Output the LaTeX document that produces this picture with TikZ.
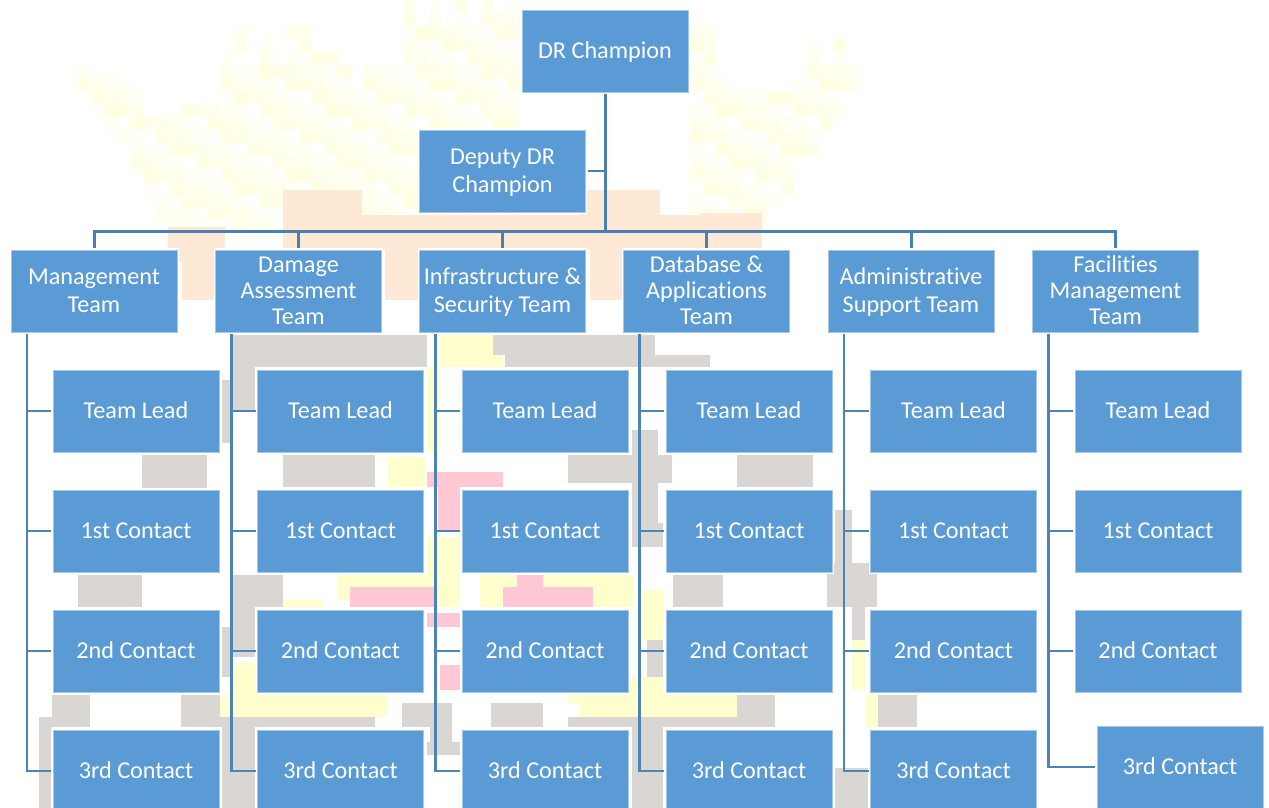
\documentclass[tikz,border=0pt]{standalone}
\usepackage{fontspec}
\setmainfont[Ligatures=NoCommon]{Carlito}
\definecolor{boxblue}{HTML}{5B9BD5}
\definecolor{boxedge}{HTML}{A5C8E8}
\definecolor{treeblue}{HTML}{4A80B0}
\definecolor{wmyellow}{HTML}{FFFFB0}
\definecolor{wmsoft}{HTML}{FFFFCE}
\definecolor{wmpeach}{HTML}{FDE9D5}
\definecolor{wmgrey}{HTML}{D9D6D4}
\definecolor{wmpink}{HTML}{FFC8D4}
\newcommand{\orgstrut}{\rule[-6pt]{0pt}{27pt}}
\tikzset{
  orgbox/.style={rectangle,fill=boxblue,draw=boxedge,line width=0.8pt,
    preaction={draw=white,line width=3.5pt},
    minimum width=166pt,minimum height=82pt,inner sep=0pt,outer sep=2pt,
    align=center,text=white,font=\fontsize{24.2}{26}\selectfont},
  bus/.style={draw=treeblue,line width=3pt},
  link/.style={draw=treeblue,line width=1.8pt},
  trunk/.style={draw=treeblue!85!boxblue,line width=2.6pt}
}
\begin{document}
\begin{tikzpicture}[x=1pt,y=-1pt]
    \useasboundingbox (0,0) rectangle (1269,808);
    \clip (0,0) rectangle (1269,808);
%
    % watermark behind the chart
    \foreach \cx/\ct/\cb in {78/65/104,91/78/117,104/65/130,117/78/143,130/78/182,143/117/195,156/117/221,169/104/234,182/104/234,
        195/104/234,208/104/234,221/52/234,234/26/234,247/65/234,260/26/234,273/65/234,286/26/234,299/26/234,312/52/234,325/52/234,
        338/65/234,351/91/234,364/65/234,377/65/234,390/65/234,403/0/234,416/26/234,429/0/234,442/26/234,455/0/234,468/26/234,
        481/0/234,494/13/234,507/0/234,690/26/234,703/13/234,716/78/234,729/91/234,742/91/234,755/91/221,768/91/208,781/91/195,
        794/65/169,807/39/156,820/65/130,833/39/117,846/65/91}{
        \foreach \cy in {0,13,...,234}{
            \pgfmathtruncatemacro\wmtone{3+2*mod(\cx*5+\cy*3,17)}
            \ifnum\cy<\ct\else\ifnum\cy<\cb
                \fill[wmyellow!\wmtone!white] (\cx,\cy) rectangle ++(13,13);
            \fi\fi
        }
    }
    \foreach \xa/\ya/\xb/\yb in {168/227/225/262,182/262/215/300,283/190/362/250,362/215/760/250,580/190/660/231,
        385/250/420/300,590/250/622/300,700/213/762/250}{
        \fill[wmpeach] (\xa,\ya) rectangle (\xb,\yb);
    }
    \foreach \xa/\ya/\xb/\yb in {440/335/503/367,427/367/440/453,388/457/425/487,427/537/460/607,337/575/427/600,283/600/323/607,
        233/663/255/695,220/695/387/717,630/677/663/695,568/695/737/703,480/575/633/607,640/590/663/640,852/640/865/690,865/695/878/727,
        580/703/737/717,323/703/362/717}{
        \fill[wmsoft] (\xa,\ya) rectangle (\xb,\yb);
    }
    \foreach \xa/\ya/\xb/\yb in {427/472/503/487,438/487/460/530,350/587/437/607,427/613/460/627,440/665/460/690,503/587/593/607,517/575/543/587}{
        \fill[wmpink] (\xa,\ya) rectangle (\xb,\yb);
    }
    \foreach \xa/\ya/\xb/\yb in {233/335/427/367,233/367/255/410,222/380/232/443,283/455/375/487,142/455/207/488,78/575/142/607,
        52/695/90/727,39/717/52/808,181/695/220/727,233/575/283/607,233/607/255/657,222/627/232/677,220/717/375/727,222/727/255/808,
        402/703/452/727,430/727/452/742,427/742/460/755,493/335/655/355,505/355/710/367,568/455/672/483,632/430/658/547,632/523/663/547,
        737/455/813/487,673/575/723/607,827/563/877/607,835/510/852/563,852/607/865/640,647/640/663/677,491/703/543/727,568/717/775/727,
        737/695/775/717,878/695/917/727,632/727/663/808,835/768/868/808}{
        \fill[wmgrey] (\xa,\ya) rectangle (\xb,\yb);
    }
%
    \draw (605,51) node[orgbox] (champion) {\orgstrut DR Champion};
    \draw (502.5,171) node[orgbox] (deputy) {\orgstrut Deputy DR\\Champion\orgstrut};
    \coordinate (busjoin) at (605,231);
%
    \draw (94,291) node[orgbox] (mgmt) {\orgstrut Management\\Team\orgstrut};
    \draw (298.5,291) node[orgbox] (damage) {\orgstrut Damage\\Assessment\\Team\orgstrut};
    \draw (502.5,291) node[orgbox] (infra) {\orgstrut Infrastructure \&\\Security Team\orgstrut};
    \draw (706.5,291) node[orgbox] (database) {\orgstrut Database \&\\Applications\\Team\orgstrut};
    \draw (911,291) node[orgbox] (admin) {\orgstrut Administrative\\Support Team\orgstrut};
    \draw (1115.5,291) node[orgbox] (facil) {\orgstrut Facilities\\Management\\Team\orgstrut};
%
    \draw (136,411) node[orgbox] (mgmtlead) {\orgstrut Team Lead};
    \draw (136,531) node[orgbox] (mgmtone) {\orgstrut 1st Contact};
    \draw (136,651) node[orgbox] (mgmttwo) {\orgstrut 2nd Contact};
    \draw (136,771) node[orgbox] (mgmtthree) {\orgstrut 3rd Contact};
    \draw (340.5,411) node[orgbox] (damagelead) {\orgstrut Team Lead};
    \draw (340.5,531) node[orgbox] (damageone) {\orgstrut 1st Contact};
    \draw (340.5,651) node[orgbox] (damagetwo) {\orgstrut 2nd Contact};
    \draw (340.5,771) node[orgbox] (damagethree) {\orgstrut 3rd Contact};
    \draw (545,411) node[orgbox] (infralead) {\orgstrut Team Lead};
    \draw (545,531) node[orgbox] (infraone) {\orgstrut 1st Contact};
    \draw (545,651) node[orgbox] (infratwo) {\orgstrut 2nd Contact};
    \draw (545,771) node[orgbox] (infrathree) {\orgstrut 3rd Contact};
    \draw (749,411) node[orgbox] (databaselead) {\orgstrut Team Lead};
    \draw (749,531) node[orgbox] (databaseone) {\orgstrut 1st Contact};
    \draw (749,651) node[orgbox] (databasetwo) {\orgstrut 2nd Contact};
    \draw (749,771) node[orgbox] (databasethree) {\orgstrut 3rd Contact};
    \draw (953.5,411) node[orgbox] (adminlead) {\orgstrut Team Lead};
    \draw (953.5,531) node[orgbox] (adminone) {\orgstrut 1st Contact};
    \draw (953.5,651) node[orgbox] (admintwo) {\orgstrut 2nd Contact};
    \draw (953.5,771) node[orgbox] (adminthree) {\orgstrut 3rd Contact};
    \draw (1158,411) node[orgbox] (facillead) {\orgstrut Team Lead};
    \draw (1158,531) node[orgbox] (facilone) {\orgstrut 1st Contact};
    \draw (1158,651) node[orgbox] (faciltwo) {\orgstrut 2nd Contact};
    \draw (1180,767) node[orgbox] (facilthree) {\orgstrut 3rd Contact};
%
    \draw[bus] (champion.south) -- (busjoin);
    \draw[link] (deputy.east) -- (deputy.east -| busjoin);
    \draw[bus] (busjoin) -| (mgmt.north);
    \draw[bus] (busjoin) -| (damage.north);
    \draw[bus] (busjoin) -| (infra.north);
    \draw[bus] (busjoin) -| (database.north);
    \draw[bus] (busjoin) -| (admin.north);
    \draw[bus] (busjoin) -| (facil.north);
%
    \draw[trunk] ([xshift=18pt]mgmt.south west) |- (mgmtlead.west);
    \draw[trunk] ([xshift=18pt]mgmt.south west) |- (mgmtone.west);
    \draw[trunk] ([xshift=18pt]mgmt.south west) |- (mgmttwo.west);
    \draw[trunk] ([xshift=18pt]mgmt.south west) |- (mgmtthree.west);
    \draw[trunk] ([xshift=18pt]damage.south west) |- (damagelead.west);
    \draw[trunk] ([xshift=18pt]damage.south west) |- (damageone.west);
    \draw[trunk] ([xshift=18pt]damage.south west) |- (damagetwo.west);
    \draw[trunk] ([xshift=18pt]damage.south west) |- (damagethree.west);
    \draw[trunk] ([xshift=18pt]infra.south west) |- (infralead.west);
    \draw[trunk] ([xshift=18pt]infra.south west) |- (infraone.west);
    \draw[trunk] ([xshift=18pt]infra.south west) |- (infratwo.west);
    \draw[trunk] ([xshift=18pt]infra.south west) |- (infrathree.west);
    \draw[trunk] ([xshift=18pt]database.south west) |- (databaselead.west);
    \draw[trunk] ([xshift=18pt]database.south west) |- (databaseone.west);
    \draw[trunk] ([xshift=18pt]database.south west) |- (databasetwo.west);
    \draw[trunk] ([xshift=18pt]database.south west) |- (databasethree.west);
    \draw[trunk] ([xshift=18pt]admin.south west) |- (adminlead.west);
    \draw[trunk] ([xshift=18pt]admin.south west) |- (adminone.west);
    \draw[trunk] ([xshift=18pt]admin.south west) |- (admintwo.west);
    \draw[trunk] ([xshift=18pt]admin.south west) |- (adminthree.west);
    \draw[trunk] ([xshift=18pt]facil.south west) |- (facillead.west);
    \draw[trunk] ([xshift=18pt]facil.south west) |- (facilone.west);
    \draw[trunk] ([xshift=18pt]facil.south west) |- (faciltwo.west);
    \draw[trunk] ([xshift=18pt]facil.south west) |- (facilthree.west);
\end{tikzpicture}
\end{document}
